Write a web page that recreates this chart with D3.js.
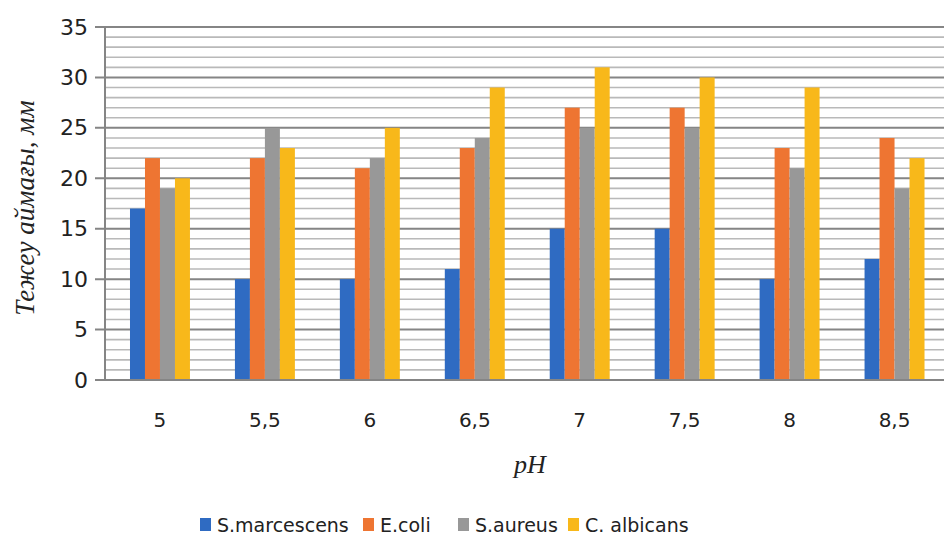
<!DOCTYPE html>
<html>
<head>
<meta charset="utf-8">
<script src="https://cdn.jsdelivr.net/npm/d3@7/dist/d3.min.js"></script>
<style>
  html, body { margin: 0; padding: 0; background: #fff; }
  svg { display: block; }
</style>
</head>
<body>
<svg id="chart" width="944" height="542"></svg>
<script>
// pH levels along the x axis
const categories = ["5", "5,5", "6", "6,5", "7", "7,5", "8", "8,5"];
// Growth-inhibition zone (mm) for each organism
const seriesNames = ["S.marcescens", "E.coli", "S.aureus", "C. albicans"];
const sMarcescens = [17, 10, 10, 11, 15, 15, 10, 12];
const eColi       = [22, 22, 21, 23, 27, 27, 23, 24];
const sAureus     = [19, 25, 22, 24, 25, 25, 21, 19];
const cAlbicans   = [20, 23, 25, 29, 31, 30, 29, 22];
const yTicks = [0, 5, 10, 15, 20, 25, 30, 35];
const colors = ["#2f6bc2", "#ee7532", "#989898", "#f8b81a"];

const seriesValues = [sMarcescens, eColi, sAureus, cAlbicans];

const svg = d3.select("#chart");
const plot = { left: 105, right: 947, top: 27, bottom: 380 };

const x = d3.scaleBand().domain(categories).range([plot.left + 2.5, plot.right]).paddingInner(0).paddingOuter(0);
const xInner = d3.scaleBand().domain(d3.range(seriesNames.length)).range([0, x.bandwidth()]).paddingInner(0).paddingOuter(1.5);
const y = d3.scaleLinear().domain([0, 35]).range([plot.bottom, plot.top]);

// Minor gridlines every 1 mm, major ones every 5 mm
const minor = d3.range(1, 36).filter(v => v % 5 !== 0);
svg.append("g").selectAll("line").data(minor).join("line")
  .attr("x1", plot.left).attr("x2", 944)
  .attr("y1", d => y(d)).attr("y2", d => y(d))
  .attr("stroke", "#b9b9b9").attr("stroke-width", 1.6);

svg.append("g").selectAll("line").data(yTicks.slice(1)).join("line")
  .attr("x1", 95).attr("x2", 944)
  .attr("y1", d => y(d)).attr("y2", d => y(d))
  .attr("stroke", "#858585").attr("stroke-width", 2);

// Bars
const groups = svg.append("g").selectAll("g").data(categories).join("g")
  .attr("transform", d => `translate(${x(d)},0)`);
groups.selectAll("rect")
  .data((c, ci) => seriesValues.map((vals, si) => ({ si, v: vals[ci] })))
  .join("rect")
  .attr("x", d => xInner(d.si))
  .attr("width", xInner.bandwidth())
  .attr("y", d => y(d.v))
  .attr("height", d => y(0) - y(d.v))
  .attr("fill", d => colors[d.si]);

// Axes lines
svg.append("line").attr("x1", plot.left).attr("x2", plot.left)
  .attr("y1", y(35)).attr("y2", plot.bottom)
  .attr("stroke", "#858585").attr("stroke-width", 2);
svg.append("line").attr("x1", 95).attr("x2", 944)
  .attr("y1", plot.bottom).attr("y2", plot.bottom)
  .attr("stroke", "#858585").attr("stroke-width", 2);

// Y tick labels
const yAxis = d3.axisLeft(y).tickValues(yTicks).tickSize(0).tickPadding(0);
const gy = svg.append("g").attr("transform", "translate(88,0)").call(yAxis);
gy.select(".domain").remove();
gy.selectAll("text")
  .attr("font-family", "DejaVu Sans, Verdana, sans-serif")
  .attr("font-size", 22).attr("fill", "#222");

// X tick labels
const xAxis = d3.axisBottom(x).tickSize(0).tickPadding(0);
const gx = svg.append("g").attr("transform", "translate(0,413)").call(xAxis);
gx.select(".domain").remove();
gx.selectAll("text")
  .attr("dy", "0.71em")
  .attr("font-family", "DejaVu Sans, Verdana, sans-serif")
  .attr("font-size", 20).attr("fill", "#222");

// Axis titles
svg.append("text")
  .attr("transform", "translate(34,208) rotate(-90)")
  .attr("text-anchor", "middle")
  .attr("font-family", "Liberation Serif, Times New Roman, serif")
  .attr("font-style", "italic").attr("font-size", 27).attr("fill", "#222")
  .text("Тежеу аймағы, мм");

svg.append("text")
  .attr("x", 530).attr("y", 473)
  .attr("text-anchor", "middle")
  .attr("font-family", "Liberation Serif, Times New Roman, serif")
  .attr("font-style", "italic").attr("font-size", 26).attr("fill", "#222")
  .text("pH");

// Legend
const legendX = [200, 363, 458, 568];
const legend = svg.append("g").selectAll("g").data(seriesNames).join("g")
  .attr("transform", (d, i) => `translate(${legendX[i]},518)`);
legend.append("rect").attr("width", 11).attr("height", 13).attr("y", 0)
  .attr("fill", (d, i) => colors[i]);
legend.append("text").attr("x", 17).attr("y", 14)
  .attr("font-family", "DejaVu Sans, Verdana, sans-serif")
  .attr("font-size", 19).attr("fill", "#222")
  .text(d => d);
</script>
</body>
</html>
